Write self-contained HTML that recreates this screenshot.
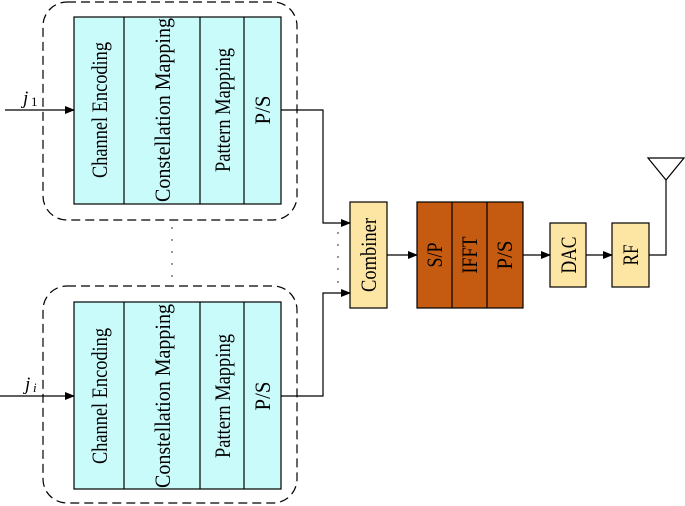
<!DOCTYPE html>
<html><head><style>body{margin:0;background:#fff}svg{display:block}</style></head><body>
<svg width="685" height="506" viewBox="0 0 685 506" xmlns="http://www.w3.org/2000/svg" font-family="'Liberation Serif', serif" font-size="22">
<defs><marker id="a" markerWidth="10" markerHeight="8" refX="9" refY="4" orient="auto" markerUnits="userSpaceOnUse"><path d="M0,0 L10,4 L0,8 z" fill="#000"/></marker></defs>
<g fill="none" stroke="#000" stroke-width="1.2" stroke-dasharray="9,5">
<rect x="43" y="2" width="254" height="218" rx="24"/>
<rect x="43" y="286" width="254" height="217" rx="24"/>
</g>
<g stroke="#000" stroke-width="1.2">
<rect x="74" y="17" width="207" height="187" fill="#c9fbfb"/>
<line x1="124" y1="17" x2="124" y2="204"/><line x1="200" y1="17" x2="200" y2="204"/><line x1="244" y1="17" x2="244" y2="204"/>
<rect x="74" y="302" width="207" height="187" fill="#c9fbfb"/>
<line x1="124" y1="302" x2="124" y2="489"/><line x1="200" y1="302" x2="200" y2="489"/><line x1="244" y1="302" x2="244" y2="489"/>
<rect x="350" y="202" width="37" height="106" fill="#fde6a4"/>
<rect x="417" y="202" width="106" height="106" fill="#c55a11"/>
<line x1="452" y1="202" x2="452" y2="308"/><line x1="487" y1="202" x2="487" y2="308"/>
<rect x="550" y="223" width="36" height="64" fill="#fde6a4"/>
<rect x="612" y="223" width="37" height="64" fill="#fde6a4"/>
</g>
<g fill="none" stroke="#000" stroke-width="1.2">
<line x1="5" y1="110" x2="74" y2="110" marker-end="url(#a)"/>
<line x1="0" y1="396" x2="74" y2="396" marker-end="url(#a)"/>
<polyline points="281,110 323,110 323,223 350,223" marker-end="url(#a)"/>
<polyline points="281,396 323,396 323,293 350,293" marker-end="url(#a)"/>
<line x1="387" y1="255" x2="417" y2="255" marker-end="url(#a)"/>
<line x1="523" y1="255" x2="550" y2="255" marker-end="url(#a)"/>
<line x1="586" y1="255" x2="612" y2="255" marker-end="url(#a)"/>
<polyline points="649,255 666,255 666,180"/>
<polygon points="648,158 684,158 666,180"/>
</g>
<g fill="#000">
<circle cx="172" cy="228" r="0.7"/><circle cx="172" cy="240" r="0.7"/><circle cx="172" cy="252" r="0.7"/><circle cx="172" cy="264" r="0.7"/><circle cx="172" cy="276" r="0.7"/>
<circle cx="338" cy="233" r="0.7"/><circle cx="338" cy="245" r="0.7"/><circle cx="338" cy="257" r="0.7"/><circle cx="338" cy="269" r="0.7"/><circle cx="338" cy="282" r="0.7"/>
</g>
<text x="23" y="104" font-style="italic" font-size="19">j</text><text x="31" y="106" font-size="13">1</text>
<text x="25" y="390" font-style="italic" font-size="19">j</text><text x="33" y="392" font-size="13" font-style="italic">i</text>
<g text-anchor="middle" lengthAdjust="spacingAndGlyphs">
<text transform="translate(107,110) rotate(-90)" textLength="136" lengthAdjust="spacingAndGlyphs">Channel Encoding</text>
<text transform="translate(170,110) rotate(-90)" textLength="184" lengthAdjust="spacingAndGlyphs">Constellation Mapping</text>
<text transform="translate(230,110) rotate(-90)" textLength="124" lengthAdjust="spacingAndGlyphs">Pattern Mapping</text>
<text transform="translate(270,110) rotate(-90)" textLength="29" lengthAdjust="spacingAndGlyphs">P/S</text>
<text transform="translate(107,396) rotate(-90)" textLength="136" lengthAdjust="spacingAndGlyphs">Channel Encoding</text>
<text transform="translate(170,396) rotate(-90)" textLength="184" lengthAdjust="spacingAndGlyphs">Constellation Mapping</text>
<text transform="translate(230,396) rotate(-90)" textLength="124" lengthAdjust="spacingAndGlyphs">Pattern Mapping</text>
<text transform="translate(270,396) rotate(-90)" textLength="29" lengthAdjust="spacingAndGlyphs">P/S</text>
<text transform="translate(376,255) rotate(-90)" textLength="74" lengthAdjust="spacingAndGlyphs">Combiner</text>
<text transform="translate(442,255) rotate(-90)" textLength="25" lengthAdjust="spacingAndGlyphs">S/P</text>
<text transform="translate(477,255) rotate(-90)" textLength="37" lengthAdjust="spacingAndGlyphs">IFFT</text>
<text transform="translate(512,255) rotate(-90)" textLength="29" lengthAdjust="spacingAndGlyphs">P/S</text>
<text transform="translate(576,255) rotate(-90)" textLength="37" lengthAdjust="spacingAndGlyphs">DAC</text>
<text transform="translate(638,255) rotate(-90)" textLength="21" lengthAdjust="spacingAndGlyphs">RF</text>
</g>
</svg>
</body></html>
